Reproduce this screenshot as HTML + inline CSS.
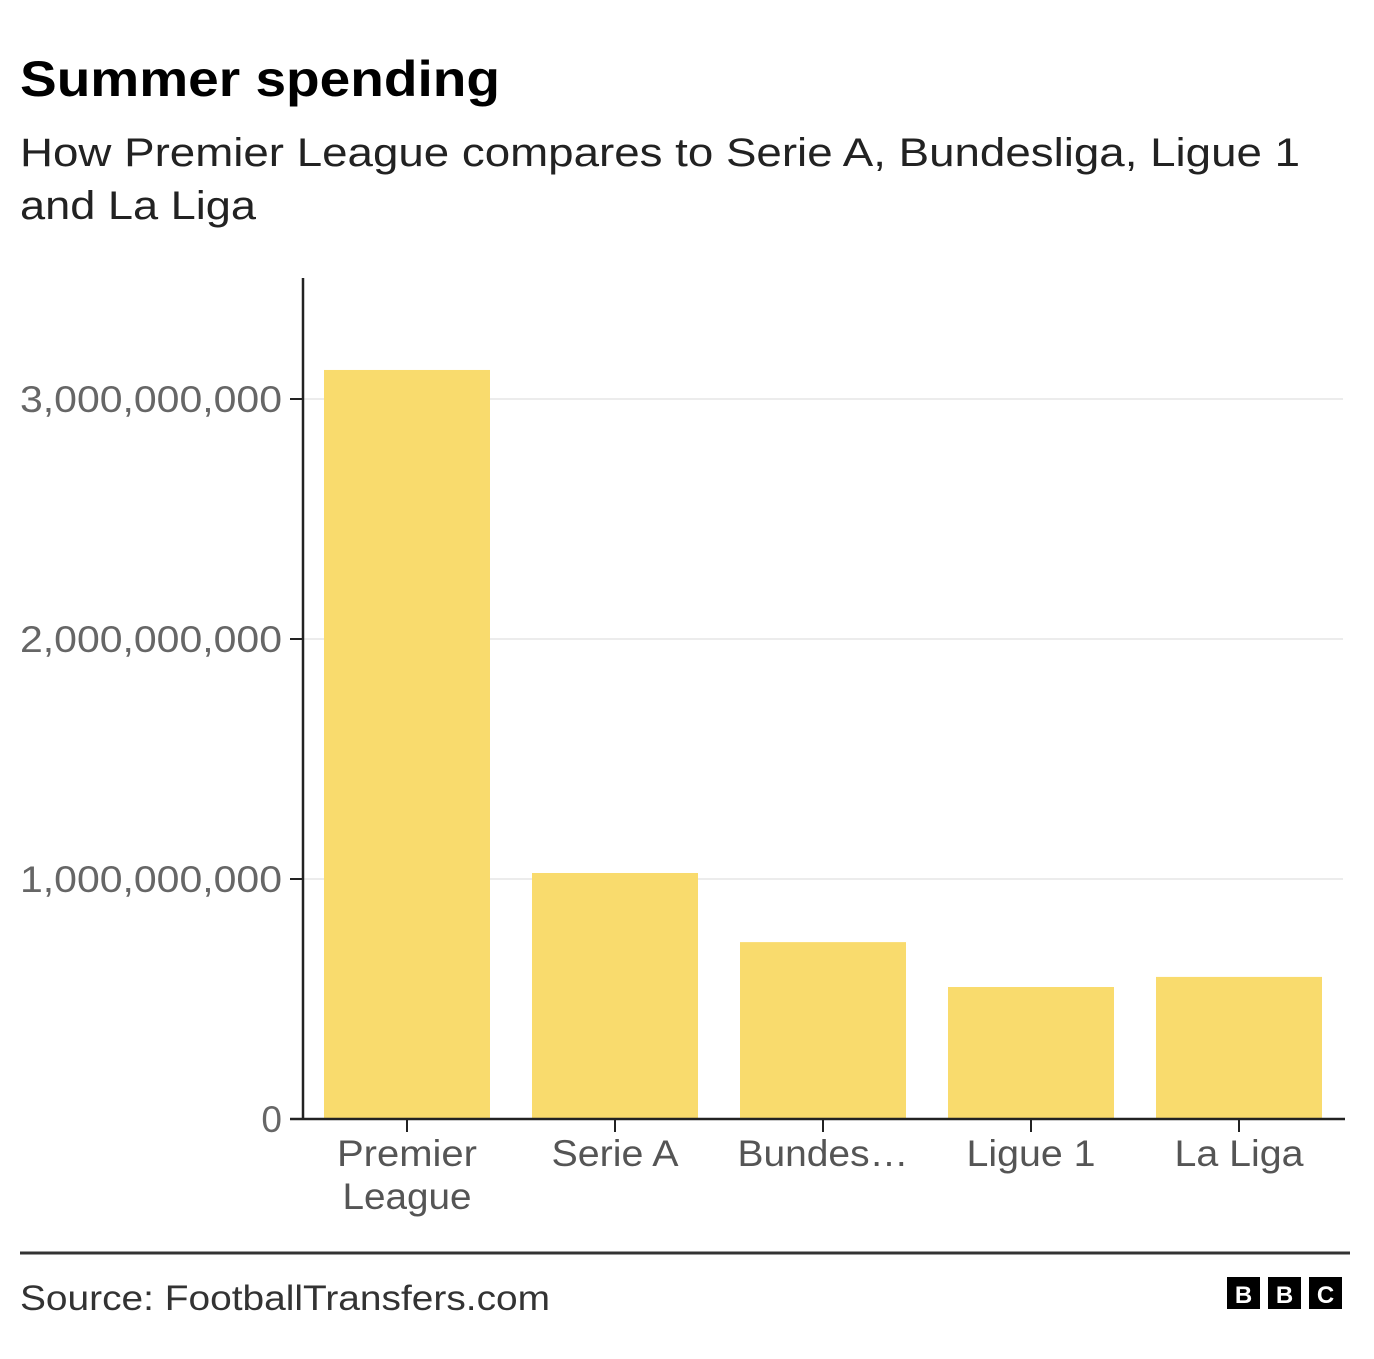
<!DOCTYPE html>
<html><head><meta charset="utf-8"><style>
body{margin:0;background:#fff;width:1374px;height:1354px;overflow:hidden;font-family:"Liberation Sans",sans-serif}
svg text{font-family:"Liberation Sans",sans-serif}
</style></head><body>
<svg id="c" width="1374" height="1354">
<text x="20" y="96" font-size="50" font-weight="bold" fill="#000" textLength="480" lengthAdjust="spacingAndGlyphs">Summer spending</text>
<text x="20" y="166" font-size="40" fill="#222" textLength="1280" lengthAdjust="spacingAndGlyphs">How Premier League compares to Serie A, Bundesliga, Ligue 1</text>
<text x="20" y="219" font-size="40" fill="#222" textLength="236" lengthAdjust="spacingAndGlyphs">and La Liga</text>
<g id="grid"></g><g id="bars"></g><g id="axes"></g>
<line x1="20" y1="1253" x2="1350" y2="1253" stroke="#333" stroke-width="3"/>
<text x="20" y="1310" font-size="35" fill="#333" textLength="530" lengthAdjust="spacingAndGlyphs">Source: FootballTransfers.com</text>
<g>
<rect x="1227" y="1277" width="33" height="32" fill="#000"/><text x="1243.5" y="1303" font-size="24" font-weight="bold" fill="#fff" text-anchor="middle">B</text>
<rect x="1268" y="1277" width="33" height="32" fill="#000"/><text x="1284.5" y="1303" font-size="24" font-weight="bold" fill="#fff" text-anchor="middle">B</text>
<rect x="1309" y="1277" width="33" height="32" fill="#000"/><text x="1325.5" y="1303" font-size="24" font-weight="bold" fill="#fff" text-anchor="middle">C</text>
</g>
</svg>
<script>
const categories=["Premier League","Serie A","Bundesliga","Ligue 1","La Liga"];
const labelLines=[["Premier","League"],["Serie A"],["Bundes…"],["Ligue 1"],["La Liga"]];
const values=[3121000000,1025000000,737000000,550000000,592000000];
const yTicks=[0,1000000000,2000000000,3000000000];
const yTickLabels=["0","1,000,000,000","2,000,000,000","3,000,000,000"];
const labelWidths=[[140,129],[127],[171],[129],[129]];
const NS="http://www.w3.org/2000/svg";
const x0=303,x1=1343,y0=1119,pxPer=240/1e9;
const y=v=>y0-v*pxPer;
const step=(x1-x0)/categories.length;
const xb=i=>x0+i*step;
function mk(t,a,p){const e=document.createElementNS(NS,t);for(const k in a)e.setAttribute(k,a[k]);p.appendChild(e);return e;}
const grid=document.getElementById('grid'),bars=document.getElementById('bars'),axes=document.getElementById('axes');
yTicks.forEach((v,i)=>{
 if(v>0){const g=mk('line',{x1:x0,x2:x1,y1:y(v),y2:y(v),stroke:'#ececec','stroke-width':2},grid);
 
 }
 const t=mk('line',{x1:290,x2:x0,y1:y(v),y2:y(v),stroke:'#222','stroke-width':2},axes);
 
 
 const l=mk('text',{x:282,y:y(v)+13,'font-size':37,fill:'#666','text-anchor':'end'},axes);
 l.textContent=yTickLabels[i];
 if(yTickLabels[i].length>3){l.setAttribute('textLength',262);l.setAttribute('lengthAdjust','spacingAndGlyphs');}
 
 
});
values.forEach((v,i)=>{
 const r=mk('rect',{x:xb(i)+21,y:y(v),width:166,height:y0-y(v),fill:'#f9db6d'},bars);
 
 
 const cx=xb(i)+step/2;
 const tk=mk('line',{x1:cx,x2:cx,y1:y0,y2:y0+13,stroke:'#222','stroke-width':2},axes);
 
 
 labelLines[i].forEach((s,j)=>{
  const t=mk('text',{x:cx,y:1166+j*43,'font-size':37,fill:'#555','text-anchor':'middle'},axes);
  t.textContent=s;
  t.setAttribute('textLength',labelWidths[i][j]);
  t.setAttribute('lengthAdjust','spacingAndGlyphs');
  
  
 });
});
const ya=mk('line',{x1:x0,x2:x0,y1:278,y2:y0+1,stroke:'#222','stroke-width':2.5},axes);


const xa=mk('line',{x1:290,x2:1345,y1:y0,y2:y0,stroke:'#222','stroke-width':2.5},axes);


</script>
</body></html>
